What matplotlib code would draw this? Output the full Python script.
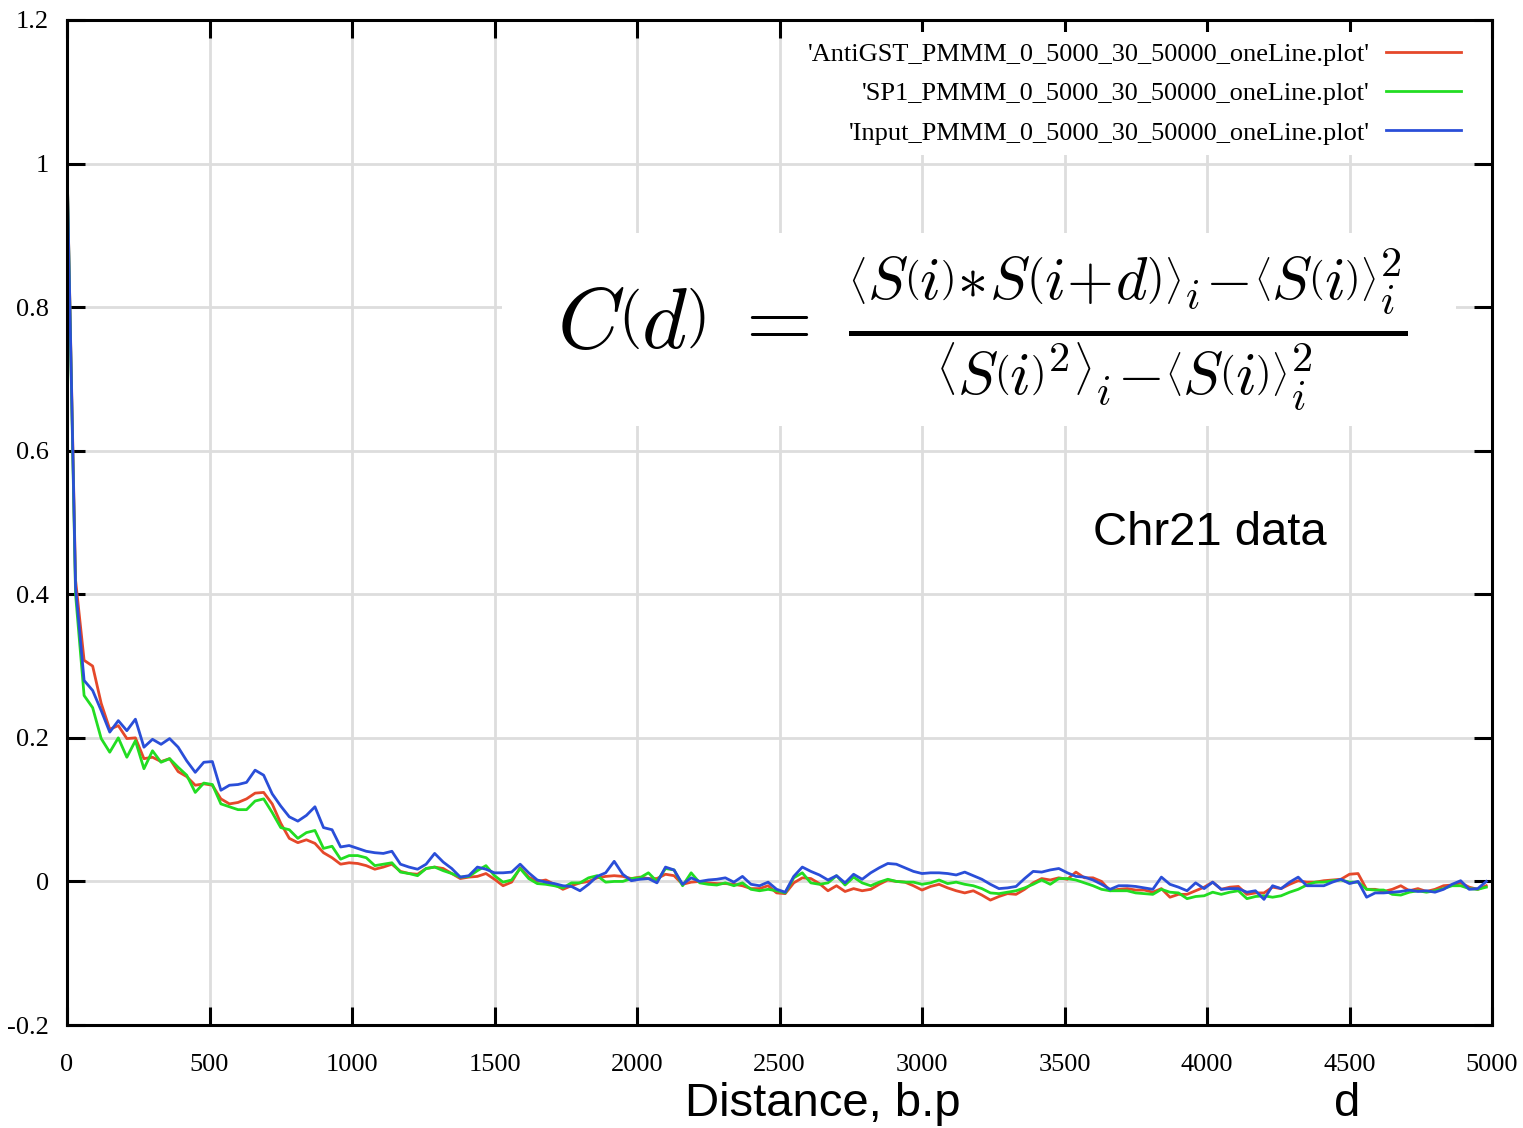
import numpy as np
import matplotlib.pyplot as plt
from matplotlib.patches import Rectangle

# distance axis, 30 bp step
dist = np.arange(0, 5000, 30)

# correlation values, split by distance ranges
anti_0_690 = [1.0, 0.42, 0.308, 0.300, 0.248, 0.212, 0.217, 0.199, 0.200, 0.171, 0.173, 0.167,
              0.171, 0.153, 0.146, 0.134, 0.136, 0.134, 0.115, 0.108, 0.110, 0.115, 0.123, 0.124]
anti_720_1470 = [0.108, 0.081, 0.060, 0.054, 0.058, 0.053, 0.040, 0.033, 0.024, 0.026, 0.025, 0.022, 0.017,
                 0.020, 0.024, 0.014, 0.011, 0.010, 0.018, 0.020, 0.018, 0.011, 0.004, 0.006, 0.007, 0.011]
anti_1500_2610 = [0.003, -0.006, -0.001, 0.019, 0.006, 0.000, 0.002, -0.004, -0.011, -0.006,
                  -0.002, 0.000, 0.005, 0.007, 0.008, 0.007, 0.004, 0.006, 0.004, 0.004,
                  0.010, 0.008, -0.004, -0.001, 0.000, -0.002, -0.003, -0.003, -0.004, -0.006,
                  -0.010, -0.010, -0.006, -0.016, -0.017, -0.002, 0.005, 0.004]
anti_2640_3750 = [-0.003, -0.013, -0.006, -0.014, -0.010, -0.013, -0.011, -0.004, 0.002, 0.000,
                  -0.001, -0.006, -0.012, -0.007, -0.004, -0.009, -0.013, -0.016, -0.013, -0.019,
                  -0.026, -0.021, -0.017, -0.018, -0.011, -0.002, 0.004, 0.002, 0.005, 0.003,
                  0.013, 0.005, 0.005, 0.000, -0.013, -0.011, -0.010, -0.012]
anti_3780_4980 = [-0.012, -0.015, -0.010, -0.022, -0.018, -0.018, -0.013, -0.008, -0.001, -0.011,
                  -0.008, -0.007, -0.018, -0.016, -0.016, -0.008, -0.010, -0.004, 0.001, -0.001,
                  -0.001, 0.001, 0.002, 0.003, 0.010, 0.011, -0.011, -0.011, -0.014, -0.011,
                  -0.006, -0.013, -0.010, -0.014, -0.011, -0.006, -0.005, -0.002, -0.008, -0.011, -0.006]

sp1_0_690 = [1.0, 0.40, 0.259, 0.242, 0.199, 0.180, 0.200, 0.173, 0.196, 0.157, 0.182, 0.166,
             0.171, 0.159, 0.148, 0.124, 0.137, 0.135, 0.108, 0.104, 0.100, 0.100, 0.112, 0.115]
sp1_720_1470 = [0.096, 0.075, 0.072, 0.060, 0.068, 0.071, 0.046, 0.049, 0.031, 0.036, 0.036, 0.033, 0.022,
                0.024, 0.026, 0.013, 0.011, 0.008, 0.018, 0.020, 0.015, 0.011, 0.006, 0.007, 0.015, 0.022]
sp1_1500_2610 = [0.008, -0.001, 0.002, 0.018, 0.004, -0.003, -0.004, -0.006, -0.009, -0.002,
                 -0.002, 0.005, 0.008, -0.001, 0.000, 0.000, 0.004, 0.005, 0.012, 0.000,
                 0.018, 0.016, -0.006, 0.012, -0.002, -0.004, -0.005, -0.002, -0.006, -0.002,
                 -0.011, -0.013, -0.011, -0.013, -0.016, 0.005, 0.012, -0.002]
sp1_2640_3750 = [-0.004, -0.002, 0.008, -0.005, 0.006, -0.002, -0.006, -0.001, 0.003, 0.000,
                 -0.001, -0.001, -0.004, -0.002, 0.002, -0.003, -0.001, -0.004, -0.006, -0.010,
                 -0.016, -0.017, -0.015, -0.013, -0.009, -0.004, 0.002, -0.004, 0.004, 0.004,
                 0.002, -0.002, -0.006, -0.011, -0.013, -0.013, -0.013, -0.016]
sp1_3780_4980 = [-0.017, -0.018, -0.011, -0.015, -0.016, -0.024, -0.021, -0.020, -0.015, -0.018,
                 -0.015, -0.013, -0.024, -0.021, -0.020, -0.022, -0.020, -0.015, -0.011, -0.005,
                 -0.001, -0.001, 0.001, 0.002, -0.001, -0.001, -0.011, -0.012, -0.012, -0.018,
                 -0.019, -0.015, -0.013, -0.015, -0.013, -0.010, -0.006, -0.006, -0.010, -0.011, -0.008]

inp_0_690 = [1.0, 0.41, 0.280, 0.266, 0.238, 0.208, 0.224, 0.210, 0.226, 0.187, 0.198, 0.191,
             0.199, 0.187, 0.168, 0.152, 0.166, 0.167, 0.127, 0.134, 0.135, 0.138, 0.155, 0.148]
inp_720_1470 = [0.122, 0.105, 0.090, 0.084, 0.092, 0.104, 0.075, 0.072, 0.048, 0.050, 0.046, 0.042, 0.040,
                0.039, 0.042, 0.024, 0.020, 0.017, 0.024, 0.039, 0.027, 0.018, 0.006, 0.008, 0.020, 0.017]
inp_1500_2610 = [0.012, 0.012, 0.013, 0.024, 0.012, 0.002, -0.001, -0.003, -0.006, -0.007,
                 -0.013, -0.004, 0.007, 0.012, 0.028, 0.010, 0.001, 0.003, 0.004, -0.002,
                 0.020, 0.016, -0.004, 0.005, 0.000, 0.002, 0.003, 0.005, -0.001, 0.007,
                 -0.004, -0.006, -0.001, -0.011, -0.015, 0.007, 0.020, 0.014]
inp_2640_3750 = [0.009, 0.002, 0.008, -0.002, 0.010, 0.003, 0.012, 0.019, 0.025, 0.024,
                 0.019, 0.014, 0.011, 0.012, 0.012, 0.011, 0.009, 0.013, 0.008, 0.003,
                 -0.004, -0.010, -0.009, -0.007, 0.004, 0.014, 0.013, 0.016, 0.018, 0.012,
                 0.007, 0.006, 0.002, -0.004, -0.011, -0.006, -0.006, -0.007]
inp_3780_4980 = [-0.009, -0.011, 0.006, -0.004, -0.008, -0.013, -0.002, -0.010, -0.001, -0.011,
                 -0.010, -0.010, -0.015, -0.013, -0.025, -0.006, -0.010, -0.001, 0.006, -0.006,
                 -0.006, -0.006, -0.001, 0.003, -0.003, 0.000, -0.022, -0.016, -0.016, -0.015,
                 -0.014, -0.012, -0.014, -0.013, -0.015, -0.011, -0.004, 0.001, -0.011, -0.010, 0.000]

anti = anti_0_690 + anti_720_1470 + anti_1500_2610 + anti_2640_3750 + anti_3780_4980
sp1 = sp1_0_690 + sp1_720_1470 + sp1_1500_2610 + sp1_2640_3750 + sp1_3780_4980
inp = inp_0_690 + inp_720_1470 + inp_1500_2610 + inp_2640_3750 + inp_3780_4980

labels = ["'AntiGST_PMMM_0_5000_30_50000_oneLine.plot'",
          "'SP1_PMMM_0_5000_30_50000_oneLine.plot'",
          "'Input_PMMM_0_5000_30_50000_oneLine.plot'"]
colors = ['#e5482a', '#22dd22', '#2a4ed8']

xticks = np.arange(0, 5001, 500)
yticks = [-0.2, 0, 0.2, 0.4, 0.6, 0.8, 1.0, 1.2]
ytick_labels = ['-0.2', '0', '0.2', '0.4', '0.6', '0.8', '1', '1.2']

plt.rcParams['mathtext.fontset'] = 'cm'
serif = 'Liberation Serif'

fig = plt.figure(figsize=(15.23, 11.28), dpi=100)
ax = fig.add_axes([67/1523, 1 - 1025/1128, 1425/1523, 1005/1128])

for y, lab, c in zip([anti, sp1, inp], labels, colors):
    ax.plot(dist, y, color=c, lw=2.0, label=lab)

ax.set_xlim(0, 5000)
ax.set_ylim(-0.2, 1.2)
ax.set_xticks(xticks)
ax.set_xticklabels([str(t) for t in xticks], fontfamily=serif, fontsize=19)
ax.set_yticks(yticks)
ax.set_yticklabels(ytick_labels, fontfamily=serif, fontsize=19)
ax.tick_params(direction='in', length=13, width=2.2, top=True, right=True)
ax.tick_params(axis='x', pad=21)
ax.tick_params(axis='y', pad=13)
ax.grid(True, color='#dddddd', lw=2)
ax.set_axisbelow(True)
for s in ax.spines.values():
    s.set_linewidth(2.2)

leg = ax.legend(loc='upper right', bbox_to_anchor=(0.9855, 0.988), frameon=True,
                markerfirst=False, prop={'family': serif, 'size': 19},
                handlelength=2.85, labelspacing=0.6, borderaxespad=0, borderpad=0.4,
                handletextpad=0.6)
leg.get_frame().set_facecolor('white')
leg.get_frame().set_edgecolor('none')
leg.get_frame().set_alpha(1)

formula = (r'$C\left(d\right)\;=\;\frac{\left\langle S\left(i\right)\!\ast\! S\left(i\!+\!d\right)\right\rangle_i'
           r'\!-\!\left\langle S\left(i\right)\right\rangle_i^2}'
           r'{\left\langle S\left(i\right)^2\right\rangle_i\!-\!\left\langle S\left(i\right)\right\rangle_i^2}$')
ax.add_patch(Rectangle((0.305, 0.596), 0.67, 0.192, transform=ax.transAxes,
                       facecolor='white', edgecolor='none', zorder=3))
ax.text(0.642, 0.692, formula, transform=ax.transAxes, ha='center', va='center',
        fontsize=62, zorder=4)

ax.text(0.802, 0.49, 'Chr21 data', transform=ax.transAxes, ha='center', va='center',
        fontfamily='Liberation Sans', fontsize=34, zorder=4)

fig.text(823/1523, 1 - 1104/1128, 'Distance, b.p', ha='center', va='center',
         fontfamily='Liberation Sans', fontsize=34)
fig.text(1347/1523, 1 - 1104/1128, 'd', ha='center', va='center',
         fontfamily='Liberation Sans', fontsize=34)

fig.savefig('out.png', dpi=100)
